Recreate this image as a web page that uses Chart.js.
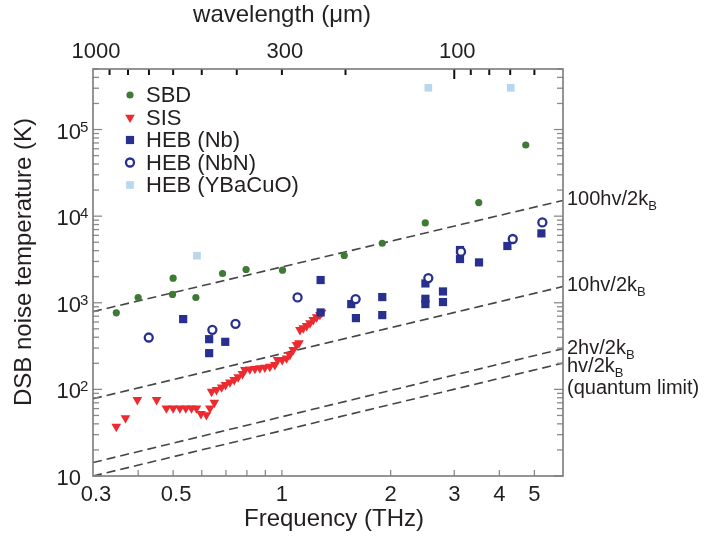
<!DOCTYPE html>
<html><head><meta charset="utf-8">
<script src="https://cdn.jsdelivr.net/npm/chart.js@4.4.1/dist/chart.umd.min.js"></script>
<style>html,body{margin:0;padding:0;background:#fff}canvas{display:block}</style>
</head><body>
<canvas id="c" width="705" height="537"></canvas>
<script>
// ---- data (frequency in THz, DSB noise temperature in K) ----
const sbdF = [0.348,0.400,0.500,0.498,0.578,0.685,0.796,1.004,1.488,1.896,2.494,3.507,4.732];
const sbdT = [765,1151,1922,1247,1151,2178,2421,2377,3512,4867,8350,14350,66300];

const sisF = [0.348,0.369,0.398,0.450,0.479,0.500,0.522,0.542,0.562,0.580,0.597,0.618,0.632,0.650,0.639,0.659,0.681,0.698,0.718,0.738,0.757,0.778,0.790,0.815,0.842,0.869,0.897,0.926,0.956,0.973,1.002,1.030,1.052,1.075,1.098,1.115,1.122,1.146,1.171,1.196,1.221,1.248,1.274,1.288];
const sisT = [37.2,46.8,75.6,75.6,60.6,60.6,60.6,60.6,60.6,60.6,52.1,50.7,60.6,70.4,94.3,98.7,106,112.8,121,128.8,138.4,151,168,171,173,176,179,183,192,219,219,229,250,286,327,342,487,510,542,583,636,683,727,773];

const nbF = [0.533,0.629,0.629,0.697,1.280,1.280,1.556,1.603,1.896,1.896,2.496,2.496,2.496,2.792,2.792,3.112,3.112,3.513,4.209,5.228];
const nbT = [648,380,262,354,1830,773,966,665,1164,721,1672,1112,966,1351,1019,4064,3200,2924,4523,6327];

const nbnF = [0.428,0.642,0.744,1.105,1.600,2.543,3.132,4.356,5.26];
const nbnT = [397,487,572,1152,1104,1930,3887,5450,8475];

const ybcoF = [0.582,2.543,4.30];
const ybcoT = [3494,303400,303000];

// reference lines (values at the two ends of the frequency range)
const lineF = [0.3, 6.0];
const line100 = [790, 15200];
const line10 = [78, 1540];
const line2 = [14.3, 295];
const line1 = [10, 201];

// axis ticks / labels
const freqLabels = [0.3, 0.5, 1, 2, 3, 4, 5];
const freqTicks = [0.4, 0.5, 0.6, 0.7, 0.8, 0.9, 1, 2, 3, 4, 5];
const waveLabels = [1000, 300, 100];
const waveTicks = [900, 800, 700, 600, 500, 400, 300, 200, 100, 90, 80, 70, 60];
const tempDecades = [1, 2, 3, 4, 5];
const seriesNames = ['SBD', 'SIS', 'HEB (Nb)', 'HEB (NbN)', 'HEB (YBaCuO)'];
const lineLabels = [['100hv/2k','B'], ['10hv/2k','B'], ['2hv/2k','B'], ['hv/2k','B']];

// ---- styles ----
const C_SBD = '#3e7a34', C_SIS = '#ec2a2f', C_NB = '#27308f', C_YB = '#b7d7ee';
const TXT = '#231f20';
const FONT = '"Liberation Sans", Arial, Helvetica, sans-serif';

const pts = (f, t) => f.map((v, i) => ({x: v, y: t[i]}));
const styles = [
  {pointStyle:'circle', radius:3.6, rotation:0, bg:C_SBD, border:C_SBD, bw:0},
  {pointStyle:'triangle', radius:5.6, rotation:180, bg:C_SIS, border:C_SIS, bw:0},
  {pointStyle:'rect', radius:5.8, rotation:0, bg:C_NB, border:C_NB, bw:0},
  {pointStyle:'circle', radius:4.0, rotation:0, bg:'#ffffff', border:C_NB, bw:2.3},
  {pointStyle:'rect', radius:5.4, rotation:0, bg:C_YB, border:C_YB, bw:0}
];
const series = [pts(sbdF,sbdT), pts(sisF,sisT), pts(nbF,nbT), pts(nbnF,nbnT), pts(ybcoF,ybcoT)];

const datasets = [];
[line100, line10, line2, line1].forEach(l => datasets.push({
  data: pts(lineF, l), showLine: true, pointRadius: 0, borderColor: '#454545',
  borderWidth: 1.6, borderDash: [9, 5], fill: false, order: 10
}));
series.forEach((d, i) => {
  const s = styles[i];
  datasets.push({
    label: seriesNames[i], data: d, showLine: false,
    pointStyle: s.pointStyle, pointRadius: s.radius, pointRotation: s.rotation,
    pointBackgroundColor: s.bg, pointBorderColor: s.border, pointBorderWidth: s.bw,
    order: 5 - i
  });
});

function tick(ctx, x1, y1, x2, y2) { ctx.beginPath(); ctx.moveTo(x1, y1); ctx.lineTo(x2, y2); ctx.stroke(); }

const deco = {
  id: 'deco',
  beforeDraw(chart) {
    const ctx = chart.ctx; ctx.save(); ctx.fillStyle = '#fff'; ctx.fillRect(0, 0, chart.width, chart.height); ctx.restore();
  },
  afterDatasetsDraw(chart) {
    const {ctx, chartArea: a, scales: {x, y, x2}} = chart;
    ctx.save();
    // y ticks (left & right)
    ctx.strokeStyle = '#8a8a8a'; ctx.lineWidth = 1.3;
    for (let d = 1; d <= 5; d++) {
      for (let m = 1; m <= 9; m++) {
        const v = m * Math.pow(10, d);
        if (v > y.max) break;
        const py = y.getPixelForValue(v);
        const len = m === 1 ? 9 : 6;
        tick(ctx, a.left, py, a.left + len, py);
        tick(ctx, a.right, py, a.right - len, py);
      }
    }
    // bottom ticks
    freqTicks.forEach(f => { const px = x.getPixelForValue(f); tick(ctx, px, a.bottom, px, a.bottom - 6); });
    // top ticks (wavelength)
    ctx.strokeStyle = '#111'; ctx.lineWidth = 2;
    waveTicks.forEach(w => { const px = x2.getPixelForValue(w); tick(ctx, px, a.top, px, a.top + (w === 100 ? 10 : 6)); });
    // border
    ctx.strokeStyle = '#7a7a7a'; ctx.lineWidth = 1.6;
    ctx.strokeRect(a.left, a.top, a.right - a.left, a.bottom - a.top);

    ctx.fillStyle = TXT;
    // bottom labels
    ctx.font = '22px ' + FONT; ctx.textAlign = 'center'; ctx.textBaseline = 'alphabetic';
    freqLabels.forEach(f => ctx.fillText(String(f), x.getPixelForValue(f) + (f < 1 ? 3 : 0), 501));
    // top labels
    waveLabels.forEach(w => ctx.fillText(String(w), x2.getPixelForValue(w) + 3, 58));
    // y labels
    tempDecades.forEach(d => {
      const py = y.getPixelForValue(Math.pow(10, d));
      ctx.font = '22px ' + FONT; ctx.textAlign = 'right'; ctx.textBaseline = 'alphabetic';
      ctx.fillText('10', 81, py + 9);
      if (d > 1) {
        ctx.font = '15px ' + FONT; ctx.textAlign = 'left';
        ctx.fillText(String(d), 80, py + 2);
      }
    });
    // axis titles
    ctx.font = '24px ' + FONT; ctx.textAlign = 'center'; ctx.textBaseline = 'alphabetic';
    ctx.fillText('Frequency (THz)', 334, 526);
    ctx.fillText('wavelength (\u03bcm)', 282, 22);
    ctx.save(); ctx.translate(31, 262); ctx.rotate(-Math.PI / 2);
    ctx.fillText('DSB noise temperature (K)', 0, 0); ctx.restore();

    // line labels (right side)
    const ly = [205, 291, 354, 372];
    ctx.textAlign = 'left';
    lineLabels.forEach((lab, i) => {
      ctx.font = '20px ' + FONT;
      ctx.fillText(lab[0], 567, ly[i]);
      const w = ctx.measureText(lab[0]).width;
      ctx.font = '13px ' + FONT;
      ctx.fillText(lab[1], 567 + w, ly[i] + 5);
    });
    ctx.font = '20px ' + FONT;
    ctx.fillText('(quantum limit)', 567, 394);

    // legend
    const rows = [95, 117.5, 140, 162.5, 185];
    seriesNames.forEach((n, i) => {
      const s = styles[i];
      ctx.fillStyle = s.bg; ctx.strokeStyle = s.border; ctx.lineWidth = s.bw;
      Chart.helpers.drawPoint(ctx, {pointStyle: s.pointStyle, radius: s.radius, rotation: s.rotation, borderWidth: s.bw}, 130, rows[i]);
      ctx.fillStyle = TXT; ctx.font = '22px ' + FONT; ctx.textAlign = 'left'; ctx.textBaseline = 'middle';
      ctx.fillText(n, 146, rows[i] + 1);
    });
    ctx.restore();
  }
};

new Chart(document.getElementById('c'), {
  type: 'scatter',
  data: { datasets },
  options: {
    responsive: false, animation: false, devicePixelRatio: 1,
    layout: { padding: { left: 93, right: 142, top: 69, bottom: 61 } },
    plugins: { legend: { display: false }, tooltip: { enabled: false } },
    scales: {
      x: { type: 'logarithmic', min: 0.3, max: 6.0, display: false },
      x2: { type: 'logarithmic', min: 50, max: 1000, reverse: true, display: false, position: 'top' },
      y: { type: 'logarithmic', min: 10, max: 5.0e5, display: false }
    }
  },
  plugins: [deco]
});
</script>
</body></html>
